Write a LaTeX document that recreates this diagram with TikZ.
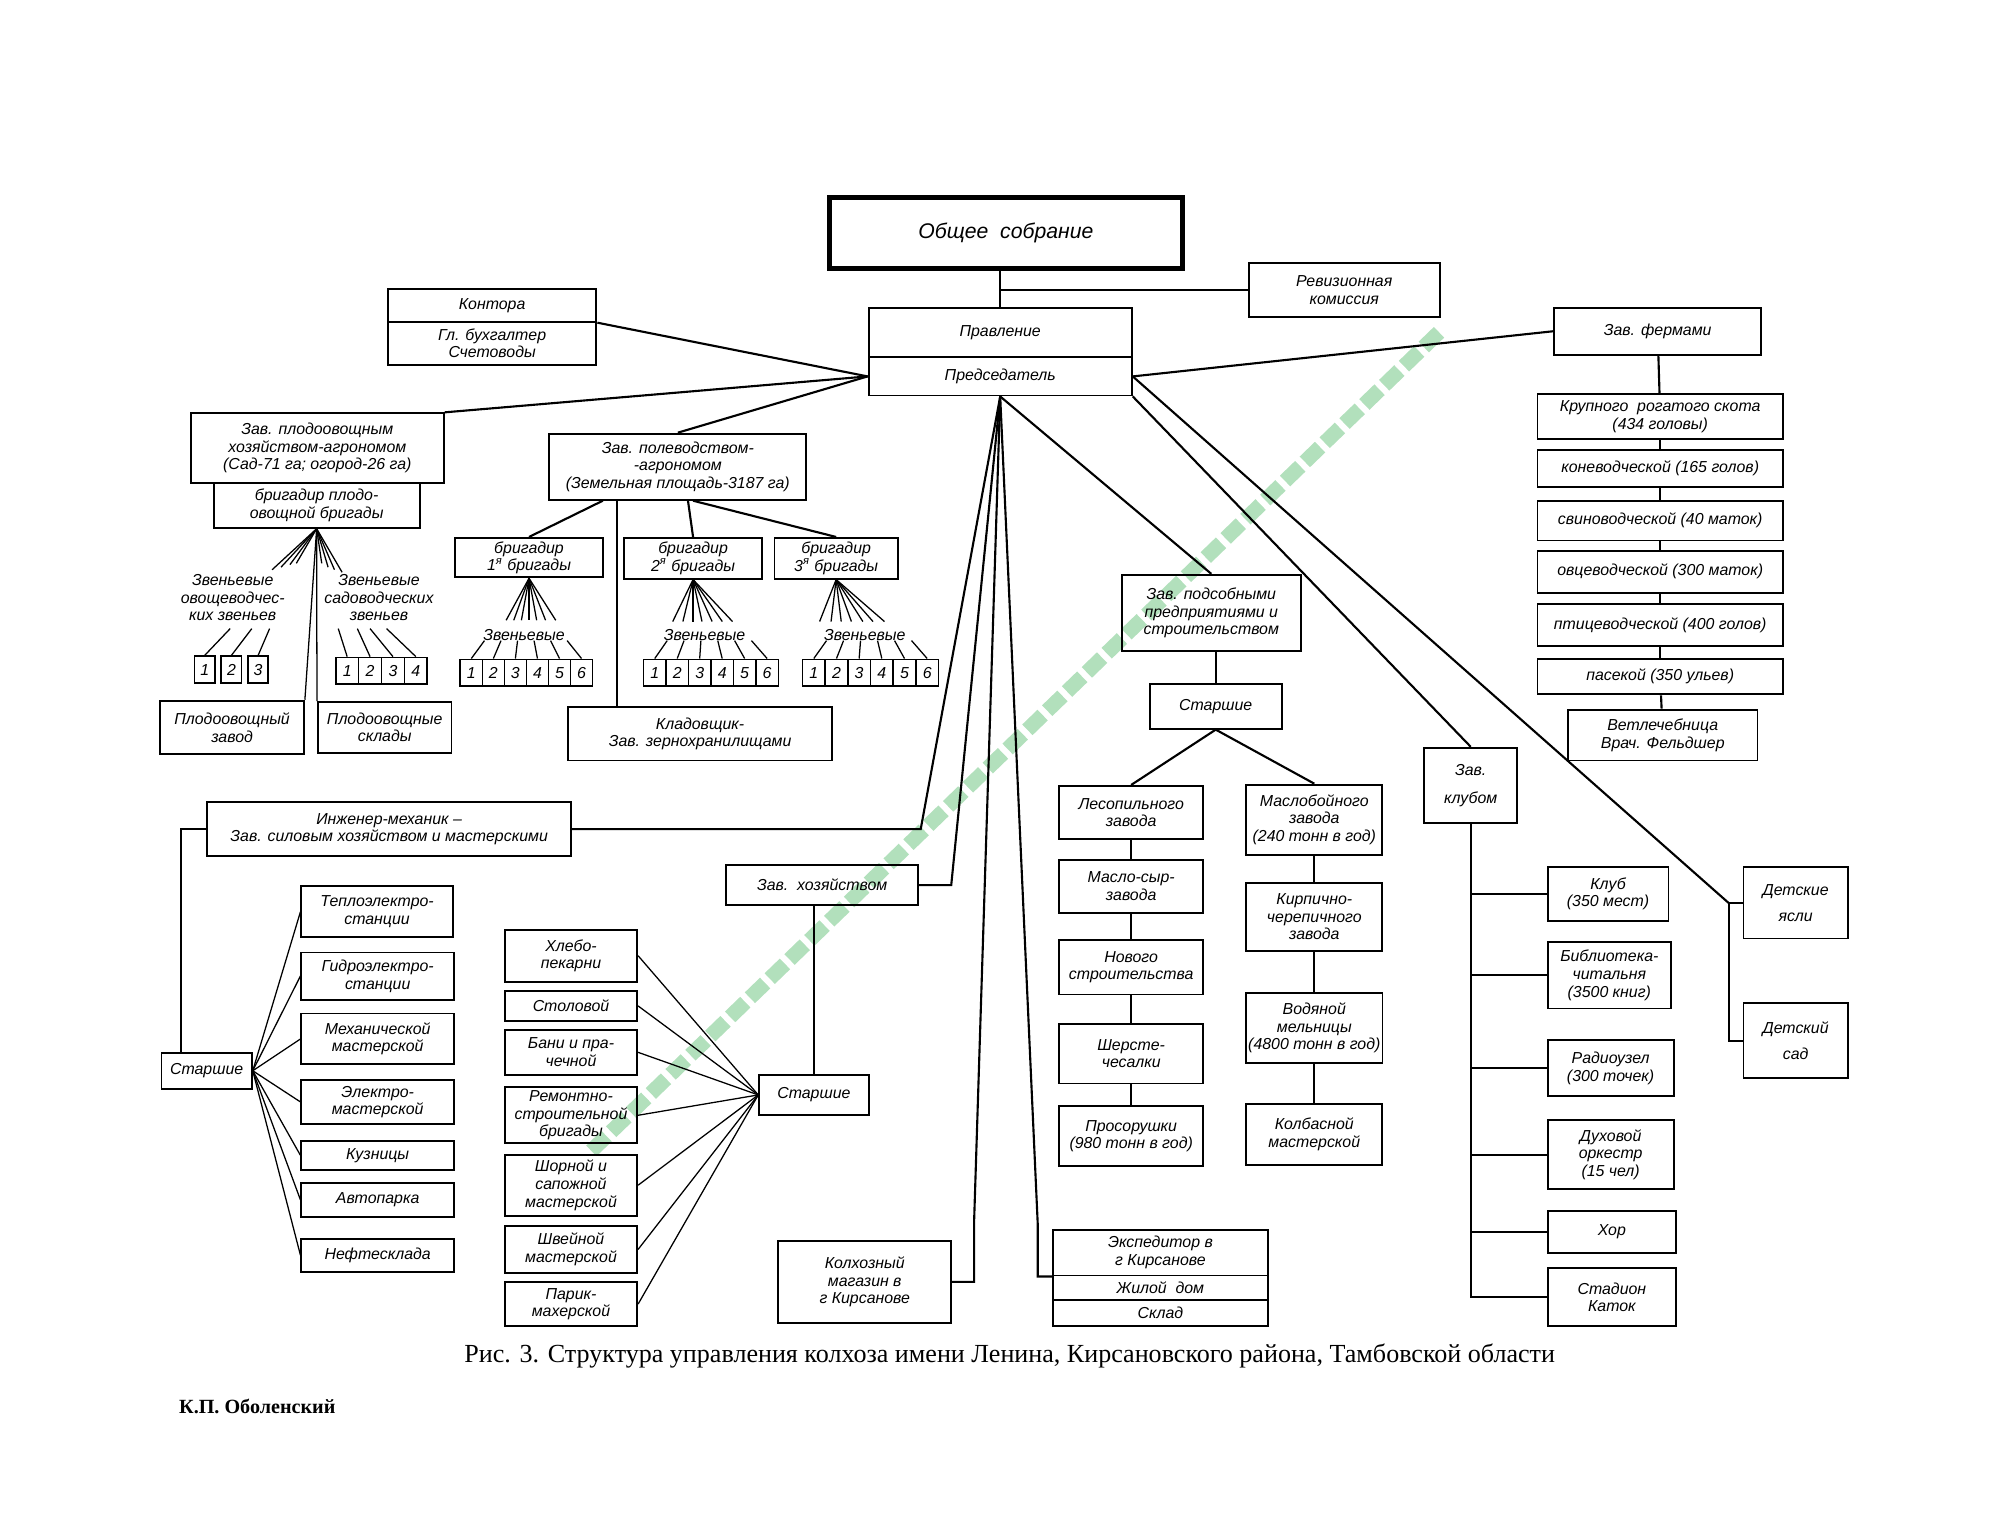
\documentclass[tikz,border=0pt]{standalone}
\usepackage{fontspec}
\setmainfont{Liberation Sans}
\newfontfamily\capfont{Liberation Serif}
\usetikzlibrary{positioning, calc}
\definecolor{wmgreen}{RGB}{178,224,188}
\newcommand{\lbl}{\fontsize{7.5}{8.3}\selectfont\itshape}

\begin{document}
\begin{tikzpicture}[
    x=0.6pt, y=-0.6pt,
    box/.style={
        draw,
        line width=0.9pt,
        inner sep=1pt,
        align=center,
        font=\lbl
    },
    sz/.style 2 args={
        minimum width=#1*0.6pt,
        minimum height=#2*0.6pt
    },
    cell/.style={
        draw,
        line width=0.8pt,
        inner sep=0pt,
        font=\lbl
    },
    conn/.style={
        line width=1pt
    },
    fan/.style={
        line width=0.6pt
    },
    note/.style={
        align=center,
        inner sep=0pt,
        font=\lbl
    }
]
\useasboundingbox (0,0) rectangle (1568,1206);

% Watermark stripe
\draw[wmgreen, line width=7pt, dash pattern=on 10pt off 3pt] (465,905) -- (1135,258);

% Top of the structure
\node[box, sz={278}{56}, line width=2.4pt, font=\fontsize{10}{12}\selectfont\itshape] (obshee) at (791,183) {Общее\ \ собрание};
\node[box, sz={150}{42}] (reviz) at (1057,228) {Ревизионная\\комиссия};
\node[box, sz={164}{26}] (kontora) at (387,240) {Контора};
\node[box, sz={164}{34}] (buh) at (387,270) {Гл. бухгалтер\\Счетоводы};
\node[box, sz={207}{39}] (pravl) at (786.5,261.5) {Правление};
\node[box, sz={207}{30}] (pred) at (786.5,296) {Председатель};
\node[box, sz={163}{37}] (fermy) at (1303.5,260.5) {Зав. фермами};

\draw[conn] (pravl.north) -- (pravl.north |- obshee.south);
\draw[conn] (pravl.north |- reviz.west) -- (reviz.west);
\draw[conn] (kontora.south east) -- (pred.west);
\draw[conn] (pred.east) -- (fermy.west);

% Farms
\node[box, sz={193}{35}] (f1) at (1305.5,327.5) {Крупного\ \ рогатого скота\\(434 головы)};
\node[box, sz={193}{29}] (f2) at (1305.5,368.5) {коневодческой (165 голов)};
\node[box, sz={193}{31}] (f3) at (1305.5,409.5) {свиноводческой (40 маток)};
\node[box, sz={193}{33}] (f4) at (1305.5,449.5) {овцеводческой (300 маток)};
\node[box, sz={193}{33}] (f5) at (1305.5,491.5) {птицеводческой (400 голов)};
\node[box, sz={193}{28}] (f6) at (1305.5,532) {пасекой (350 ульев)};
\node[box, sz={149}{40}] (f7) at (1307.5,578) {Ветлечебница\\Врач. Фельдшер};
\draw[conn] (fermy) -- (f1);
\foreach \a/\b in {f1/f2, f2/f3, f3/f4, f4/f5, f5/f6, f6/f7}
    \draw[conn] (\a) -- (\b);

% Fruit and vegetable branch
\node[box, sz={199}{55}] (plod) at (249.5,352.5) {Зав. плодоовощным\\хозяйством-агрономом\\(Сад-71 га; огород-26 га)};
\node[box, sz={162}{35}] (brplod) at (249,397.5) {бригадир плодо-\\овощной бригады};
\node[box, sz={113}{42}] (plodzavod) at (182.5,572) {Плодоовощный\\завод};
\node[box, sz={105}{40}] (plodsklad) at (302.5,572) {Плодоовощные\\склады};
\draw[conn] (pred.west) -- (plod.north east);

\node[note] (zvo) at (183,470) {Звеньевые\\овощеводчес-\\ких звеньев};
\node[note] (zvs) at (298,470) {Звеньевые\\садоводческих\\звеньев};
\foreach \x/\y [count=\i] in {214/448, 221/446, 228/444, 233/443, 253/443, 258/446, 263/448, 269/450} {
    \coordinate (pf\i) at (\x,\y);
    \draw[fan] (brplod.south) -- (pf\i);
}
\draw[fan] (brplod.south) -- (plodzavod.north east);
\draw[fan] (brplod.south) -- (plodsklad.north west);

\foreach \i/\cx/\dx in {1/161/20, 2/182/16, 3/203/9} {
    \node[cell, sz={16}{21}] (po\i) at (\cx,526.5) {\i};
    \path (po\i.north) ++(\dx,-21) coordinate (pl\i);
    \draw[fan] (pl\i) -- (po\i.north);
}
\foreach \i/\cx/\dx in {1/273/-7, 2/291/-10, 3/309/-18, 4/327/-23} {
    \node[cell, sz={18}{21}] (ps\i) at (\cx,527.5) {\i};
    \path (ps\i.north) ++(\dx,-22) coordinate (ql\i);
    \draw[fan] (ql\i) -- (ps\i.north);
}

% Field crops branch
\node[box, sz={202}{52}] (polevod) at (533,367) {Зав. полеводством-\\-агрономом\\(Земельная площадь-3187 га)};
\node[box, sz={116}{31}] (br1) at (416,438.5) {бригадир\\1\textsuperscript{я} бригады};
\node[box, sz={108}{32}] (br2) at (545,439) {бригадир\\2\textsuperscript{я} бригады};
\node[box, sz={97}{32}] (br3) at (657.5,439) {бригадир\\3\textsuperscript{я} бригады};
\node[box, sz={207}{42}] (kladov) at (550.5,577) {Кладовщик-\\Зав. зернохранилищами};
\draw[conn] (pred.west) -- (polevod.north);
\draw[conn] ($(polevod.south)+(-59,0)$) -- (br1.north);
\draw[conn] ($(polevod.south)+(8,0)$) -- (br2.north);
\draw[conn] ($(polevod.south)+(12,0)$) -- (br3.north);
\draw[conn] ($(polevod.south)+(-48,0)$) coordinate (kv) -- (kv |- kladov.north);

\node[note] (zv1) at (412,499) {Звеньевые};
\node[note] (zv2) at (554,499) {Звеньевые};
\node[note] (zv3) at (680,499) {Звеньевые};
\foreach \b/\spread in {1/{-18,-12,-6,0,6,13,21}, 2/{-16,-8,0,7,15,23,31}, 3/{-13,-4,4,12,21,29,38}} {
    \foreach \dx [count=\i] in \spread {
        \path (br\b.south) ++(\dx,33) coordinate (z\b\i);
        \draw[fan] (br\b.south) -- (z\b\i);
    }
}
\foreach \b/\xo/\w in {1/353.3/17.33, 2/497.2/17.67, 3/622.1/17.83} {
    \foreach \i in {1,...,6} {
        \node[cell, sz={\w}{21}] (c\b\i) at ({\xo+\w*\i},529) {\i};
        \draw[fan] ($(zv\b.south)!0.75!(zv\b.south -| c\b\i)$) -- (c\b\i.north);
    }
}

% Engineer and power facilities
\node[box, sz={286}{42}] (inzh) at (306,652) {Инженер-механик –\\Зав. силовым хозяйством и мастерскими};
\node[box, sz={71}{28}] (star1) at (162.5,842) {Старшие};
\node[box, sz={119}{40}] (e1) at (296.5,717) {Теплоэлектро-\\станции};
\node[box, sz={120}{37}] (e2) at (297,767.5) {Гидроэлектро-\\станции};
\node[box, sz={120}{40}] (e3) at (297,817) {Механической\\мастерской};
\node[box, sz={120}{35}] (e4) at (297,866.5) {Электро-\\мастерской};
\node[box, sz={120}{23}] (e5) at (297,908.5) {Кузницы};
\node[box, sz={120}{27}] (e6) at (297,943.5) {Автопарка};
\node[box, sz={120}{26}] (e7) at (297,987) {Нефтесклада};
\coordinate (inzhbend) at (724,652);
\draw[conn] (pred.south) -- (inzhbend) -- (inzh.east);
\draw[conn] (inzh.west) -| ($(star1.north)+(-20,0)$);
\foreach \n in {1,...,7}
    \draw[fan] (star1.east) -- (e\n.west);

% Household services
\node[box, sz={151}{32}] (hoz) at (646.5,696) {Зав.\ \ хозяйством};
\node[box, sz={86}{32}] (star2) at (640,861) {Старшие};
\node[box, sz={104}{41}] (h1) at (449,751.5) {Хлебо-\\пекарни};
\node[box, sz={104}{24}] (h2) at (449,791) {Столовой};
\node[box, sz={104}{35}] (h3) at (449,827.5) {Бани и пра-\\чечной};
\node[box, sz={104}{44}] (h4) at (449,877) {Ремонтно-\\строительной\\бригады};
\node[box, sz={104}{48}] (h5) at (449,932) {Шорной и\\сапожной\\мастерской};
\node[box, sz={104}{37}] (h6) at (449,982.5) {Швейной\\мастерской};
\node[box, sz={104}{35}] (h7) at (449,1025.5) {Парик-\\махерской};
\coordinate (hozbend) at (748,696);
\draw[conn] (pred.south) -- (hozbend) -- (hoz.east);
\draw[conn] (star2.north) -- (star2.north |- hoz.south);
\foreach \n in {1,...,7}
    \draw[fan] (star2.west) -- (h\n.east);

% Shop and town services
\node[box, sz={136}{64}] (magaz) at (680,1008) {Колхозный\\магазин в\\г Кирсанове};
\node[box, sz={169}{36}] (eksp1) at (912.5,985) {Экспедитор в\\г Кирсанове};
\node[box, sz={169}{19}] (eksp2) at (912.5,1012.5) {Жилой\ \ дом};
\node[box, sz={169}{21}] (eksp3) at (912.5,1032.5) {Склад};
\coordinate (magbend) at (766,960);
\coordinate (ekbend) at (816,962);
\draw[conn] (pred.south) -- (magbend) |- (magaz.east);
\draw[conn] (pred.south) -- (ekbend) |- (eksp1.south west);

% Auxiliary enterprises
\node[box, sz={141}{60}] (podsob) at (952.5,482) {Зав. подсобными\\предприятиями и\\строительством};
\node[box, sz={104}{35}] (star3) at (956,555.5) {Старшие};
\node[box, sz={113}{42}] (l1) at (889.5,639) {Лесопильного\\завода};
\node[box, sz={113}{42}] (l2) at (889.5,697) {Масло-сыр-\\завода};
\node[box, sz={113}{43}] (l3) at (889.5,760.5) {Нового\\строительства};
\node[box, sz={113}{47}] (l4) at (889.5,828.5) {Шерсте-\\чесалки};
\node[box, sz={113}{47}] (l5) at (889.5,893.5) {Просорушки\\(980 тонн в год)};
\node[box, sz={107}{55}] (r1) at (1033.5,644.5) {Маслобойного\\завода\\(240 тонн в год)};
\node[box, sz={107}{54}] (r2) at (1033.5,721) {Кирпично-\\черепичного\\завода};
\node[box, sz={107}{55}] (r3) at (1033.5,808.5) {Водяной\\мельницы\\(4800 тонн в год)};
\node[box, sz={107}{48}] (r4) at (1033.5,892) {Колбасной\\мастерской};
\draw[conn] (pred.south) -- (podsob.north);
\draw[conn] (podsob.south -| star3.north) -- (star3.north);
\draw[conn] (star3.south) -- (l1.north);
\draw[conn] (star3.south) -- (r1.north);
\foreach \a/\b in {l1/l2, l2/l3, l3/l4, l4/l5, r1/r2, r2/r3, r3/r4}
    \draw[conn] (\a) -- (\b);

% Club
\node[box, sz={73}{59}] (klub) at (1156.5,617.5) {Зав.\\[5pt]клубом};
\node[box, sz={95}{42}] (c1) at (1264.5,703) {Клуб\\(350 мест)};
\node[box, sz={97}{52}] (c2) at (1265.5,767) {Библиотека-\\читальня\\(3500 книг)};
\node[box, sz={99}{44}] (c3) at (1266.5,840) {Радиоузел\\(300 точек)};
\node[box, sz={99}{54}] (c4) at (1266.5,908) {Духовой\\оркестр\\(15 чел)};
\node[box, sz={101}{33}] (c5) at (1267.5,968.5) {Хор};
\node[box, sz={101}{46}] (c6) at (1267.5,1020) {Стадион\\Каток};
\draw[conn] (pred.south east) -- (klub.north);
\draw[conn] (klub.south) -- (klub.south |- c6.west) -- (c6.west);
\foreach \n in {1,...,5}
    \draw[conn] (klub.south |- c\n.west) -- (c\n.west);

% Children
\node[box, sz={82}{56}] (yasli) at (1412,710) {Детские\\[4pt]ясли};
\node[box, sz={82}{59}] (sad) at (1412,818.5) {Детский\\[4pt]сад};
\draw[conn] (yasli.west) -- ++(-11,0) coordinate (yj) -- (yj |- sad.west) -- (sad.west);
\draw[conn] (pred.east) -- (yj);

% Caption
\node[font=\capfont\fontsize{12.3}{14}\selectfont] (caption) at (794,1066) {Рис. 3. Структура управления колхоза имени Ленина, Кирсановского района, Тамбовской области};
\node[font=\capfont\bfseries\fontsize{9.5}{11}\selectfont, anchor=west] (author) at (135,1106) {К.П. Оболенский};

\end{tikzpicture}
\end{document}
